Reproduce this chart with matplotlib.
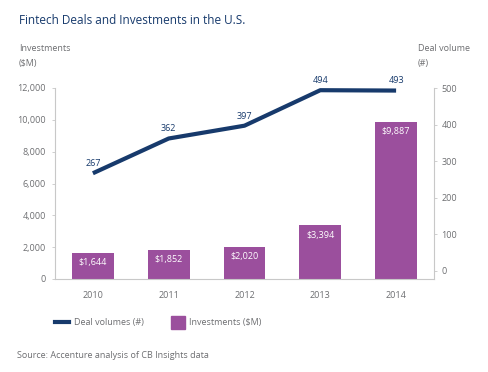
import numpy as np
import matplotlib
matplotlib.use("Agg")
import matplotlib.pyplot as plt
from matplotlib import font_manager

years = ["2010", "2011", "2012", "2013", "2014"]
investments = [1644, 1852, 2020, 3394, 9887]
deals = [267, 362, 397, 494, 493]
left_ticks = [0, 2000, 4000, 6000, 8000, 10000, 12000]
right_ticks = [0, 100, 200, 300, 400, 500]

navy = "#173a6c"
purple = "#9b4f9d"
gray = "#6d6e71"
axis_gray = "#c8c8c8"

plt.rcParams["font.family"] = ["Open Sans", "DejaVu Sans"]
names = {f.name for f in font_manager.fontManager.ttflist}
title_font = "Liberation Sans Narrow" if "Liberation Sans Narrow" in names else "Open Sans"
title_size = 10.5 if title_font == "Liberation Sans Narrow" else 8.5

fig = plt.figure(figsize=(4.88, 3.72), dpi=100)
ax = fig.add_axes([55 / 488, 93 / 372, 379 / 488, 191 / 372])
x = np.arange(len(years))

bars = ax.bar(x, investments, width=0.55, color=purple, zorder=2)
ax.set_xlim(-0.5, 4.5)
ax.set_ylim(0, 12000)
ax.set_yticks(left_ticks)
ax.set_yticklabels([f"{v:,}" for v in left_ticks])
ax.set_xticks(x)
ax.set_xticklabels(years)
for v, b in zip(investments, bars):
    ax.text(b.get_x() + b.get_width() / 2, v - 350, f"${v:,}", ha="center", va="top",
            color="white", fontsize=6.5)

ax2 = ax.twinx()
ax2.plot(x, deals, color=navy, lw=3, solid_capstyle="butt", zorder=3)
ax2.set_ylim(-22, 500)
ax2.set_yticks(right_ticks)
for xi, d in zip(x, deals):
    ax2.text(xi, d + 14, str(d), ha="center", va="bottom", color=navy, fontsize=6.5)

for a in (ax, ax2):
    for s in a.spines.values():
        s.set_visible(False)
    a.tick_params(colors=gray, labelsize=6.5, length=2.5, width=0.6, color=axis_gray)
ax.spines["left"].set_visible(True)
ax.spines["left"].set_color(axis_gray)
ax.spines["bottom"].set_visible(True)
ax.spines["bottom"].set_color(axis_gray)
ax2.spines["right"].set_visible(True)
ax2.spines["right"].set_color(axis_gray)
ax.tick_params(axis="x", length=0, pad=9)
ax.tick_params(axis="y", pad=4)
ax2.tick_params(axis="y", pad=3)

fig.text(19 / 488, 1 - 20 / 372, "Fintech Deals and Investments in the U.S.", color=navy,
         fontsize=title_size, family=title_font, va="center", ha="left")
fig.text(19 / 488, 1 - 56 / 372, "Investments\n($M)", color=gray, fontsize=6.5,
         va="center", ha="left", linespacing=1.9)
fig.text(418 / 488, 1 - 56 / 372, "Deal volume\n(#)", color=gray, fontsize=6.5,
         va="center", ha="left", linespacing=1.9)

# legend drawn by hand below the axes
fig.add_artist(plt.Line2D([55 / 488, 69 / 488], [1 - 322 / 372] * 2, color=navy, lw=3))
fig.text(74 / 488, 1 - 323 / 372, "Deal volumes (#)", color=gray, fontsize=6.5, va="center")
fig.add_artist(plt.Rectangle((171 / 488, 1 - 329 / 372), 14 / 488, 13 / 372, color=purple,
                             transform=fig.transFigure))
fig.text(189 / 488, 1 - 323 / 372, "Investments ($M)", color=gray, fontsize=6.5, va="center")
fig.text(17 / 488, 1 - 355 / 372, "Source: Accenture analysis of CB Insights data", color=gray,
         fontsize=6.5, va="center")

fig.savefig("out.png", dpi=100)
